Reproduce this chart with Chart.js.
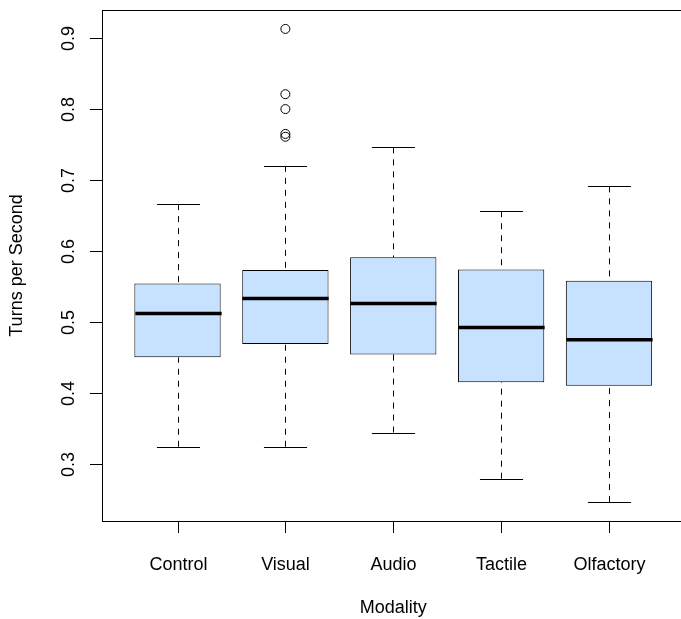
<!DOCTYPE html>
<html lang="en">
<head>
    <meta charset="UTF-8">
    <title>Turns per Second by Modality</title>
    <script src="https://cdn.jsdelivr.net/npm/chart.js@4.4.0/dist/chart.umd.min.js"></script>
    <style>
        html, body {
            margin: 0;
            padding: 0;
            background: #ffffff;
            overflow: hidden;
        }
        /* plot region runs a few pixels past the window edge, like the original */
        #myChart {
            display: block;
        }
    </style>
</head>
<body>
    <canvas id="myChart" width="690" height="619"></canvas>

    <script>
        // box statistics
        const categories = ['Control', 'Visual', 'Audio', 'Tactile', 'Olfactory'];
        const lowerWhisker = [0.324, 0.324, 0.344, 0.279, 0.246];
        const q1 = [0.450, 0.469, 0.454, 0.415, 0.410];
        const median = [0.512, 0.533, 0.526, 0.492, 0.475];
        const q3 = [0.554, 0.573, 0.591, 0.574, 0.558];
        const upperWhisker = [0.666, 0.720, 0.746, 0.656, 0.691];
        const visualOutliers = [0.913, 0.821, 0.800, 0.765, 0.761];
        const yTicks = [0.3, 0.4, 0.5, 0.6, 0.7, 0.8, 0.9];

        const FONT = '18px "Liberation Sans", Arial, Helvetica, sans-serif';

        // y range like R: data range stretched by 4% on each side
        const allVals = lowerWhisker.concat(upperWhisker, visualOutliers);
        const lo = Math.min(...allVals), hi = Math.max(...allVals);
        const pad = (hi - lo) * 0.04;

        const boxExtras = {
            id: 'boxExtras',
            afterDatasetsDraw(chart) {
                const ctx = chart.ctx;
                const a = chart.chartArea;
                const x = chart.scales.x, y = chart.scales.y;

                function seg(x1, y1, x2, y2) {
                    ctx.beginPath();
                    ctx.moveTo(x1, y1);
                    ctx.lineTo(x2, y2);
                    ctx.stroke();
                }

                ctx.save();
                ctx.strokeStyle = '#000';
                ctx.lineWidth = 1;

                categories.forEach((c, i) => {
                    const px = Math.round(x.getPixelForValue(i + 1)) + 0.5;
                    const cap = x.getPixelForValue(i + 1.2) - x.getPixelForValue(i + 1);

                    // dashed whiskers, drawn from the end toward the box
                    ctx.setLineDash([6, 6]);
                    seg(px, y.getPixelForValue(upperWhisker[i]), px, y.getPixelForValue(q3[i]));
                    seg(px, y.getPixelForValue(lowerWhisker[i]), px, y.getPixelForValue(q1[i]));
                    ctx.setLineDash([]);

                    // staples
                    const yu = Math.round(y.getPixelForValue(upperWhisker[i])) + 0.5;
                    const yl = Math.round(y.getPixelForValue(lowerWhisker[i])) + 0.5;
                    seg(px - cap, yu, px + cap, yu);
                    seg(px - cap, yl, px + cap, yl);

                    // median
                    ctx.lineWidth = 3.5;
                    const ym = y.getPixelForValue(median[i]);
                    seg(px - 2 * cap, ym, px + 2 * cap, ym);
                    ctx.lineWidth = 1;
                });

                // frame
                ctx.strokeRect(Math.round(a.left) + 0.5, Math.round(a.top) + 0.5,
                    Math.round(a.right - a.left), Math.round(a.bottom - a.top));

                ctx.fillStyle = '#000';
                ctx.font = FONT;

                // y ticks and rotated labels
                yTicks.forEach(v => {
                    const py = Math.round(y.getPixelForValue(v)) + 0.5;
                    seg(a.left - 12, py, a.left, py);
                    ctx.save();
                    ctx.translate(a.left - 28.5, py);
                    ctx.rotate(-Math.PI / 2);
                    ctx.textAlign = 'center';
                    ctx.textBaseline = 'alphabetic';
                    ctx.fillText(v.toFixed(1), 0, 0);
                    ctx.restore();
                });

                // x ticks and labels
                categories.forEach((c, i) => {
                    const px = Math.round(x.getPixelForValue(i + 1)) + 0.5;
                    seg(px, a.bottom, px, a.bottom + 12);
                    ctx.textAlign = 'center';
                    ctx.textBaseline = 'alphabetic';
                    ctx.fillText(c, px, a.bottom + 49);
                });

                // axis titles
                ctx.textAlign = 'center';
                ctx.fillText('Modality', (a.left + a.right) / 2, a.bottom + 92);
                ctx.save();
                ctx.translate(21.5, (a.top + a.bottom) / 2);
                ctx.rotate(-Math.PI / 2);
                ctx.fillText('Turns per Second', 0, 0);
                ctx.restore();

                ctx.restore();
            }
        };

        window.addEventListener('load', function() {
            const ctx = document.getElementById('myChart').getContext('2d');
            new Chart(ctx, {
                type: 'bar',
                data: {
                    datasets: [{
                        label: 'IQR',
                        data: categories.map((c, i) => ({ x: i + 1, y: [q1[i], q3[i]] })),
                        backgroundColor: 'rgb(198, 226, 255)',
                        borderColor: '#000',
                        borderWidth: 1,
                        borderSkipped: false,
                        barPercentage: 0.8,
                        categoryPercentage: 1.0
                    }, {
                        type: 'scatter',
                        label: 'Outliers',
                        data: visualOutliers.map(v => ({ x: 2, y: v })),
                        pointStyle: 'circle',
                        pointRadius: 4.5,
                        borderColor: '#000',
                        borderWidth: 1,
                        backgroundColor: 'rgba(0,0,0,0)'
                    }]
                },
                options: {
                    responsive: false,
                    animation: false,
                    devicePixelRatio: 1,
                    layout: {
                        padding: { left: 102, top: 10, right: 3, bottom: 98 }
                    },
                    plugins: {
                        legend: { display: false },
                        tooltip: { enabled: false }
                    },
                    scales: {
                        x: {
                            type: 'linear',
                            min: 0.3,
                            max: 5.7,
                            offset: false,
                            display: false,
                            // one tick per box so bar widths follow the box spacing
                            afterBuildTicks: (scale) => {
                                scale.ticks = categories.map((c, i) => ({ value: i + 1 }));
                            }
                        },
                        y: {
                            min: lo - pad,
                            max: hi + pad,
                            display: false
                        }
                    }
                },
                plugins: [boxExtras]
            });
        });
    </script>
</body>
</html>
